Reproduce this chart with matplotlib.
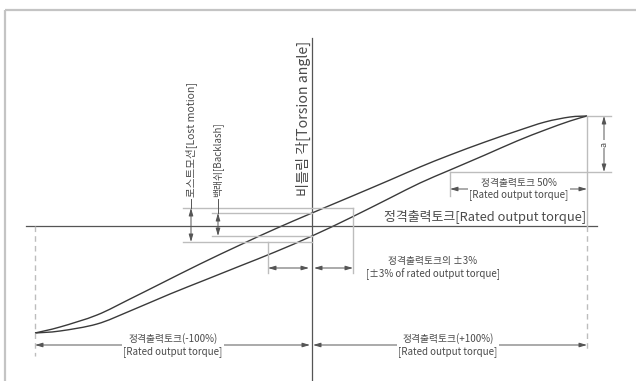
import matplotlib
matplotlib.use("Agg")
import matplotlib.pyplot as plt
from matplotlib.patches import Rectangle, PathPatch
from matplotlib.path import Path

plt.rcParams['font.family'] = ['Noto Sans CJK KR', 'DejaVu Sans']

# Schematic drawing units (x to the right = output torque, y downward = torsion angle)
upper_curve_x = [35, 60, 97, 130, 160, 200, 240, 275, 312, 350, 390, 420, 450, 485, 517, 545, 570, 587]
upper_curve_y = [333, 327, 315, 299, 284, 264, 245, 229, 213, 197, 180, 167, 155, 142, 131, 122, 117, 116]
lower_curve_x = [35, 60, 97, 130, 170, 205, 240, 275, 312, 350, 390, 420, 450, 485, 517, 545, 570, 587]
lower_curve_y = [333, 331, 324, 311, 294, 280, 266, 252, 236, 218, 198, 183, 170, 155, 141, 130, 121, 116]

# Torque positions: -100 %, -3 %, 0, +3 %, 50 % start, +100 %
torque_neg100 = 35
torque_neg3 = 268
torque_zero = 312
torque_pos3 = 353
torque_half = 450
torque_pos100 = 587

# Angle levels
angle_zero = 226
angle_peak = 116
angle_half = 172
lost_motion_top = 208
lost_motion_bottom = 242
backlash_top = 213
backlash_bottom = 236

labels = {
    'axis_y': '비틀림 각[Torsion angle]',
    'axis_x': '정격출력토크[Rated output torque]',
    'lost': '로스트모션[Lost motion]',
    'backlash': '백래쉬[Backlash]',
    'pm3': '정격출력토크의 ±3%\n[±3% of rated output torque]',
    'half': '정격출력토크 50%\n[Rated output torque]',
    'neg100': '정격출력토크(-100%)\n[Rated output torque]',
    'pos100': '정격출력토크(+100%)\n[Rated output torque]',
    'a': 'a',
}

AXIS = '#555555'
CURVE = '#3a3a3a'
EXT = '#bdbdbd'
DIM = '#555555'
TXT = '#4a4a4a'

fig = plt.figure(figsize=(6.36, 3.81), dpi=100)
ax = fig.add_axes([0, 0, 1, 1])
ax.set_xlim(0, 636)
ax.set_ylim(381, 0)
ax.axis('off')

# outer frame
ax.add_patch(Rectangle((5, 10), 640, 390, fill=False, edgecolor='#c4c4c4', lw=1.6))


def smooth_path(xs, ys):
    """Cubic Bezier path passing through every given point (Catmull-Rom tangents)."""
    pts = list(zip(xs, ys))
    verts = [pts[0]]
    codes = [Path.MOVETO]
    n = len(pts)
    for i in range(n - 1):
        p0 = pts[i - 1] if i > 0 else pts[i]
        p1 = pts[i]
        p2 = pts[i + 1]
        p3 = pts[i + 2] if i + 2 < n else pts[i + 1]
        c1 = (p1[0] + (p2[0] - p0[0]) / 6, p1[1] + (p2[1] - p0[1]) / 6)
        c2 = (p2[0] - (p3[0] - p1[0]) / 6, p2[1] - (p3[1] - p1[1]) / 6)
        verts += [c1, c2, p2]
        codes += [Path.CURVE4] * 3
    return Path(verts, codes)


def dim_arrow(x0, y0, x1, y1):
    ax.annotate('', xy=(x1, y1), xytext=(x0, y0),
                arrowprops=dict(arrowstyle='<|-|>,head_length=0.45,head_width=0.13',
                                color=DIM, lw=0.7, shrinkA=0, shrinkB=0,
                                mutation_scale=10))


# main axes
ax.plot([torque_zero, torque_zero], [38, 381], color=AXIS, lw=0.9)
ax.plot([26, 597], [angle_zero, angle_zero], color=AXIS, lw=0.9)

# extension lines
ax.plot([torque_neg100, torque_neg100], [angle_zero, 356], color=EXT, lw=1.0, ls=(0, (4, 3)))
ax.plot([torque_pos100, torque_pos100], [angle_peak, angle_zero], color=EXT, lw=1.0)
ax.plot([torque_pos100, torque_pos100], [angle_zero, 352], color=EXT, lw=1.0, ls=(0, (4, 3)))
ax.plot([torque_pos100, 611], [angle_peak, angle_peak], color=EXT, lw=1.0)
ax.plot([torque_half, 611], [angle_half, angle_half], color=EXT, lw=1.0)
ax.plot([torque_half, torque_half], [angle_half, 196], color=EXT, lw=1.0)
ax.plot([183, torque_pos3], [lost_motion_top, lost_motion_top], color=EXT, lw=1.0)
ax.plot([183, torque_zero], [lost_motion_bottom, lost_motion_bottom], color=EXT, lw=1.0)
ax.plot([212, torque_zero], [backlash_top, backlash_top], color=EXT, lw=1.0)
ax.plot([212, torque_zero], [backlash_bottom, backlash_bottom], color=EXT, lw=1.0)
ax.plot([torque_neg3, torque_neg3], [lost_motion_bottom, 273], color=EXT, lw=1.0)
ax.plot([torque_pos3, torque_pos3], [lost_motion_top, 273], color=EXT, lw=1.0)

# hysteresis curves
for cx, cy in ((upper_curve_x, upper_curve_y), (lower_curve_x, lower_curve_y)):
    ax.add_patch(PathPatch(smooth_path(cx, cy), facecolor='none', edgecolor=CURVE, lw=1.0))

# dimension arrows
dim_arrow(604, angle_peak, 604, angle_half)
dim_arrow(torque_half, 189, torque_pos100, 189)
dim_arrow(torque_neg100, 345, torque_zero - 2, 345)
dim_arrow(torque_zero + 1, 345, torque_pos100, 345)
dim_arrow(torque_neg3, 268, torque_zero - 3, 268)
dim_arrow(torque_zero + 2, 268, torque_pos3, 268)
ax.plot([191, 191], [199, lost_motion_top], color=DIM, lw=0.7)
dim_arrow(191, lost_motion_top, 191, lost_motion_bottom)
ax.plot([218, 218], [199, backlash_top], color=DIM, lw=0.7)
dim_arrow(218, backlash_top, 218, backlash_bottom)

white = dict(facecolor='white', edgecolor='none', pad=1.0)

# texts
ax.text(303, 196, labels['axis_y'], rotation=90, ha='center', va='bottom',
        fontsize=10.2, color=TXT)
ax.text(586, 217, labels['axis_x'], ha='right', va='center', fontsize=9.3, color=TXT)
ax.text(191, 197, labels['lost'], rotation=90, ha='center', va='bottom',
        fontsize=7.6, color=TXT, bbox=dict(facecolor='white', edgecolor='none', pad=0.5))
ax.text(218, 197, labels['backlash'], rotation=90, ha='center', va='bottom',
        fontsize=7.0, color=TXT, bbox=dict(facecolor='white', edgecolor='none', pad=0.5))
ax.text(604, 144, labels['a'], rotation=90, ha='center', va='center', fontsize=6.5,
        color=TXT, bbox=white)
ax.text(433, 268, labels['pm3'], ha='center', va='center', fontsize=7, color=TXT,
        linespacing=1.25)
ax.text(519, 189, labels['half'], ha='center', va='center', fontsize=7, color=TXT,
        linespacing=1.25, bbox=white)
ax.text(173, 345, labels['neg100'], ha='center', va='center', fontsize=7, color=TXT,
        linespacing=1.3, bbox=white)
ax.text(448, 345, labels['pos100'], ha='center', va='center', fontsize=7, color=TXT,
        linespacing=1.3, bbox=white)

fig.savefig('out.png', dpi=100)
